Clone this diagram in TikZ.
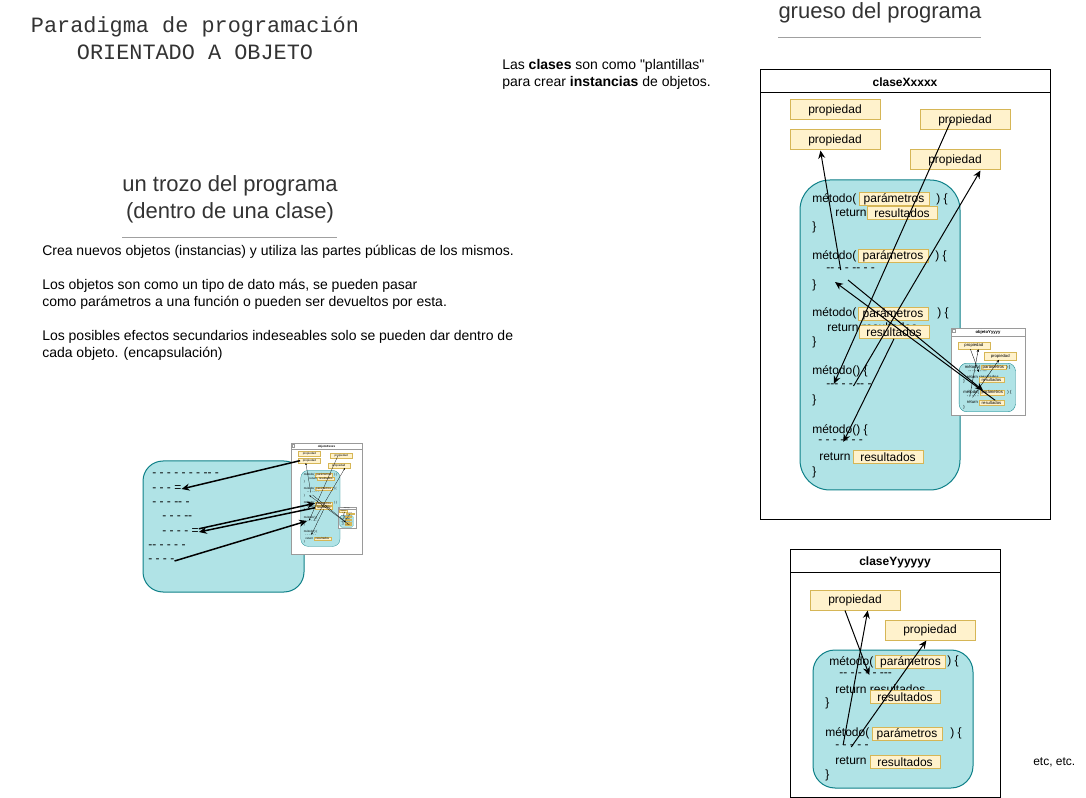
\documentclass[tikz,border=0pt]{standalone}
\usepackage{fontspec}
\setmainfont{Liberation Sans}[Ligatures=TeXOff]
\newfontfamily\monoFont{Liberation Mono}
\usetikzlibrary{arrows.meta, calc}
\newlength{\pxUnit}
\newcommand{\setPx}[1]{%
  \setlength{\pxUnit}{#1}%
  \edef\tipLen{\the\dimexpr 8\pxUnit\relax}%
  \edef\tipWid{\the\dimexpr 7\pxUnit\relax}}
\setPx{0.75pt}
\newcommand{\codeFont}{\fontsize{9}{11}\selectfont}
\newcommand{\noteFont}{\fontsize{10.5}{12.75}\selectfont}
\newcommand{\headFont}{\fontsize{16.5}{20.25}\selectfont}
\newcommand{\titleFont}{\monoFont\fontsize{16.4}{20.25}\selectfont}
\newcommand{\thumbX}{0.245}
\newcommand{\thumbY}{0.352}
\definecolor{propFill}{HTML}{FFF2CC}
\definecolor{propLine}{HTML}{D6B656}
\definecolor{tealFill}{HTML}{B0E3E6}
\definecolor{tealLine}{HTML}{0E8088}
\definecolor{ruleGray}{HTML}{A0A0A0}
\definecolor{thumbGray}{HTML}{9A9A9A}
\definecolor{textGray}{HTML}{333333}
\tikzstyle{codeText}=[inner sep=0, anchor=west, font=\codeFont]
\tikzstyle{classTitle}=[inner sep=0, font=\codeFont\bfseries]
\tikzstyle{propBox}=[draw=propLine, fill=propFill, line width=\pxUnit, inner sep=0, minimum width=67.5pt, minimum height=15pt, font=\codeFont]
\tikzstyle{valBox}=[propBox, minimum width=52.5pt, minimum height=9.5pt]
\tikzstyle{panel}=[draw=tealLine, fill=tealFill, line width=\pxUnit]
\tikzstyle{classFrame}=[fill=white, line width=\pxUnit]
\tikzstyle{headRule}=[draw=ruleGray, line width=\pxUnit]
\tikzstyle{arrow}=[line width=\pxUnit, -{Stealth[length=\tipLen, width=\tipWid]}]

% class with two methods (local px coordinates, origin top left)
\newcommand{\claseYyyyyy}[2]{%
  % frame
  \draw[classFrame, draw=#2] (0,0) rectangle (210,247);
  \draw[line width=\pxUnit, draw=#2] (0,23) -- (210,23);
  \node[classTitle] (title) at (105,12) {#1};
  % properties
  \node[propBox] (pA) at (65,50) {propiedad};
  \node[propBox] (pB) at (140,80) {propiedad};
  % methods
  \draw[panel, rounded corners=22\pxUnit] (23,100) rectangle (183,238);
  \node[codeText] (m1) at (39,112) {método(};
  \node[valBox] (par1) at (120.5,112) {parámetros};
  \node[codeText] (m1c) at (157,111) {) \{};
  \node[codeText] (d1) at (49,125) {-- - - - - ---};
  \node[codeText] (ret1) at (45,139) {return resultados};
  \node[valBox] (res1) at (115,147) {resultados};
  \node[codeText] (b1) at (35,153) {\}};
  \node[codeText] (m2) at (35,183) {método(};
  \node[valBox] (par2) at (117,184) {parámetros};
  \node[codeText] (m2c) at (160,183) {) \{};
  \node[codeText] (d2) at (45,197) {- - - - -};
  \node[codeText] (ret2) at (45,211) {return};
  \node[valBox] (res2) at (115,212) {resultados};
  \node[codeText] (b2) at (35,225) {\}};
  % uses of the properties
  \draw[arrow] ($(pA.south west)!0.39!(pA.south east)$) -- ($(d1.west)!0.57!(d1.east)$);
  \draw[arrow] ($(d2.north west)!0.24!(d2.north east)$) -- ($(pA.south west)!0.64!(pA.south east)$);
  \draw[arrow] ($(d2.west)!0.48!(d2.east)$) -- ($(pB.south west)!0.46!(pB.south east)$);
}

% class with five methods and one object inside
\newcommand{\claseXxxxx}[3]{%
  \begin{scope}[name prefix=#3]
  % frame
  \draw[classFrame, draw=#2] (0,0) rectangle (290,450);
  \draw[line width=\pxUnit, draw=#2] (0,23) -- (290,23);
  \node[classTitle] (title) at (145,12) {#1};
  % properties
  \node[propBox] (p1) at (75,40) {propiedad};
  \node[propBox] (p2) at (75,70) {propiedad};
  \node[propBox] (p3) at (205,50) {propiedad};
  \node[propBox] (p4) at (195,90) {propiedad};
  % methods
  \draw[panel, rounded corners=30\pxUnit] (40,110) rectangle (200,420);
  \node[codeText] (m1) at (52,129) {método(};
  \node[valBox] (par1) at (134,129) {parámetros};
  \node[codeText] (m1c) at (176,129) {) \{};
  \node[codeText] (ret1) at (75,143) {return};
  \node[valBox] (res1) at (142,143) {resultados};
  \node[codeText] (b1) at (52,157) {\}};
  \node[codeText] (m2) at (52,186) {método(};
  \node[valBox] (par2) at (133,186) {parámetros};
  \node[codeText] (m2c) at (175,186) {) \{};
  \node[codeText] (d2) at (66,200) {-- - - -- - -};
  \node[codeText] (b2) at (52,215) {\}};
  \node[codeText] (m3) at (52,243) {método(};
  \node[valBox] (par3) at (133,244) {parámetros};
  \node[codeText] (m3c) at (177,243) {) \{};
  \node[codeText] (ret3) at (67,257) {return resultados};
  \node[valBox] (res3) at (134,262) {resultados};
  \node[codeText] (b3) at (52,272) {\}};
  \node[codeText] (m4) at (52,301) {método() \{};
  \node[codeText] (d4) at (66,316) {--- - - -- -};
  \node[codeText] (b4) at (52,330) {\}};
  \node[codeText] (m5) at (52,360) {método() \{};
  \node[codeText] (d5) at (58,372) {- - - -- - -};
  \node[codeText] (ret5) at (59,387) {return};
  \node[valBox] (res5) at (128,387) {resultados};
  \node[codeText] (b5) at (52,402) {\}};
  % object of claseYyyyyy
  \begin{scope}[shift={(191,258)}, scale=\thumbY, transform shape, name prefix=#3Y-]
    \setPx{\thumbY\pxUnit}
    \claseYyyyyy{objetoYyyyy}{thumbGray}
    \draw[line width=\pxUnit, draw=thumbGray] (4,4) rectangle (13,13);
  \end{scope}
  % uses of properties and of the object
  \coordinate (c2in) at (75,212);
  \coordinate (c2out) at (88,210);
  \draw[arrow] ($(d2.west)!0.3!(d2.east)$) -- ($(p2.south west)!0.34!(p2.south east)$);
  \draw[arrow] ($(p3.west)!0.35!(p3.east)$) -- ($(d4.north west)!0.17!(d4.north east)$);
  \draw[arrow] ($(d4.west)!0.6!(d4.east)$) -- ($(p4.south west)!0.78!(p4.south east)$);
  \draw[arrow] (res3.south) -- ($(d5.west)!0.56!(d5.east)$);
  \draw[arrow] ($(Y-res2.north)!0.3!(Y-res2.north east)$) -- (c2in);
  \draw[arrow] (c2out) -- ($(Y-par2.north west)!0.13!(Y-par2.north east)$);
  \end{scope}
}

\begin{document}
\begin{tikzpicture}[x=0.75pt, y=-0.75pt]
\useasboundingbox (0,0) rectangle (1086,798);

% Headings and notes
\node[font=\titleFont, text=textGray, align=center] (title) at (195,38.5) {Paradigma de programación\\ORIENTADO A OBJETO};
\node[font=\headFont, text=textGray] (grueso) at (880,13) {grueso del programa};
\draw[headRule] (778,38) -- (981,38);
\node[font=\headFont, text=textGray, align=center] (trozo) at (230,199.5) {un trozo del programa\\(dentro de una clase)};
\draw[headRule] (122,238) -- (337,238);
\node[font=\noteFont, align=left, anchor=north west, inner sep=0] (notes) at (42,245)
  {Crea nuevos objetos (instancias) y utiliza las partes públicas de los mismos.\\[12.75pt]
   Los objetos son como un tipo de dato más, se pueden pasar\\
   como parámetros a una función o pueden ser devueltos por esta.\\[12.75pt]
   Los posibles efectos secundarios indeseables solo se pueden dar dentro de\\
   cada objeto. (encapsulación)};
\node[font=\noteFont, align=left, anchor=north west, inner sep=0] (plantillas) at (502,59)
  {Las \textbf{clases} son como "plantillas"\\para crear \textbf{instancias} de objetos.};
\node[codeText] (etc) at (1033,762) {etc, etc.};

% Piece of program
\draw[panel, rounded corners=20\pxUnit] (143,461) rectangle (304,592);
\node[codeText] (l1) at (152,475) {- - - - - - - -- -};
\node[codeText] (l2) at (152,489) {- - - =};
\node[codeText] (l3) at (152,504) {- - - -- -};
\node[codeText] (l4) at (162,518) {- - - --};
\node[codeText] (l5) at (162,532) {- - - - =};
\node[codeText] (l6) at (148,547) {-- - - - -};
\node[codeText] (l7) at (148,561) {- - - -};
\begin{scope}[shift={(291,443.5)}, scale=\thumbX, transform shape]
  \setPx{\thumbX\pxUnit}
  \claseXxxxx{objetoXxxxx}{thumbGray}{oX-}
  \draw[line width=\pxUnit, draw=thumbGray] (4,4) rectangle (13,13);
\end{scope}
\draw[arrow, line width=1.5\pxUnit] ($(oX-p2.west)!0.08!(oX-p2.east)$) -- (l2.east);
\draw[arrow, line width=1.5\pxUnit] (l5.north east) -- (oX-par3.west);
\draw[arrow, line width=1.5\pxUnit] (oX-res3.west) -- (l5.east);
\draw[arrow, line width=1.5\pxUnit] (l7.east) -- (oX-d4.west);

% Classes
\begin{scope}[shift={(760,70)}]
  \claseXxxxx{claseXxxxx}{black}{cX-}
\end{scope}
\begin{scope}[shift={(790,550)}, name prefix=cY-]
  \claseYyyyyy{claseYyyyyy}{black}
\end{scope}
\end{tikzpicture}
\end{document}
